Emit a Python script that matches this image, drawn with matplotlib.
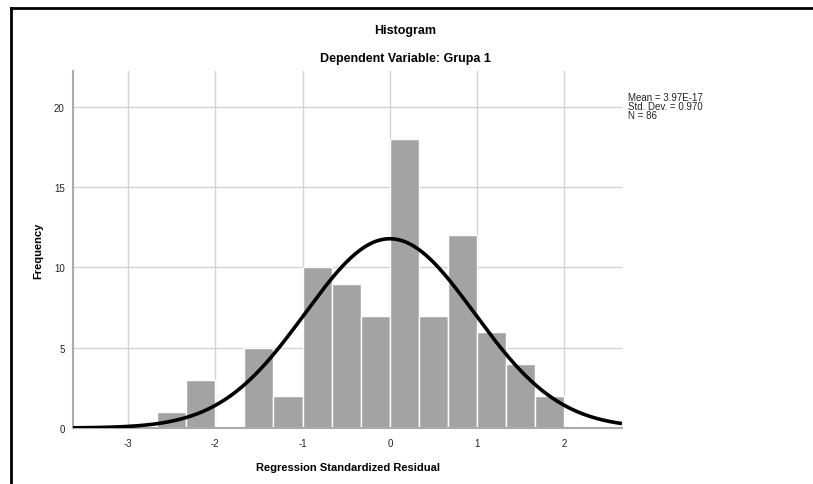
import numpy as np
import matplotlib
matplotlib.use("Agg")
import matplotlib.pyplot as plt
from matplotlib.lines import Line2D

plt.rcParams['font.family'] = ['Liberation Sans', 'DejaVu Sans']

# histogram of residuals, bins of width 1/3 from -8/3 to 2
bin_left = -8 / 3
bin_width = 1 / 3
counts = [1, 3, 0, 5, 2, 10, 9, 7, 18, 7, 12, 6, 4, 2]
mean = 3.97e-17
std = 0.970
n = 86
x_ticks = [-3, -2, -1, 0, 1, 2]
y_ticks = [0, 5, 10, 15, 20]

W, H = 813, 485
fig = plt.figure(figsize=(W / 100, H / 100), dpi=100)
ax = fig.add_axes([73 / W, 1 - 429 / H, (622 - 73) / W, (429 - 72) / H])

edges = bin_left + bin_width * np.arange(len(counts))
ax.bar(edges, counts, width=bin_width, align='edge', color='#a3a3a3',
       edgecolor='white', linewidth=1.0, zorder=2)

xlim = (-3.63, 2.66)
xs = np.linspace(xlim[0], xlim[1], 400)
ys = n * bin_width * np.exp(-0.5 * ((xs - mean) / std) ** 2) / (std * np.sqrt(2 * np.pi))
ax.plot(xs, ys, color='black', linewidth=2.6, zorder=3, solid_capstyle='butt')

ax.set_xlim(*xlim)
ax.set_ylim(0, 22.24)
ax.set_xticks(x_ticks)
ax.set_yticks(y_ticks)
ax.set_xticklabels([str(t) for t in x_ticks])
ax.tick_params(length=0, labelsize=7, colors='#222222', pad=7)
ax.tick_params(axis='y', pad=6)
ax.grid(True, color='#d2d2d2', linewidth=1.0, zorder=0)
ax.set_axisbelow(True)
for s in ['top', 'right']:
    ax.spines[s].set_visible(False)
for s in ['left', 'bottom']:
    ax.spines[s].set_color('#aaaaaa')
    ax.spines[s].set_linewidth(1.5)

ax.set_xlabel('Regression Standardized Residual', fontsize=8, fontweight='bold', labelpad=10)
ax.set_ylabel('Frequency', fontsize=8, fontweight='bold', labelpad=8)

fig.text(405 / W, 1 - 31 / H, 'Histogram', ha='center', va='center', fontsize=9, fontweight='bold')
fig.text(405 / W, 1 - 59 / H, 'Dependent Variable: Grupa 1', ha='center', va='center',
         fontsize=9, fontweight='bold')

stats = ['Mean = 3.97E-17', 'Std. Dev. = 0.970', 'N = 86']
for i, s in enumerate(stats):
    fig.text(628 / W, 1 - (98 + 9 * i) / H, s, ha='left', va='center', fontsize=7, color='#222222')

# outer frame (top and left edges only)
fig.add_artist(Line2D([11 / W, 1], [1 - 9 / H, 1 - 9 / H], color='black', linewidth=2))
fig.add_artist(Line2D([11 / W, 11 / W], [0, 1 - 9 / H], color='black', linewidth=2))

fig.savefig('out.png', dpi=100)
